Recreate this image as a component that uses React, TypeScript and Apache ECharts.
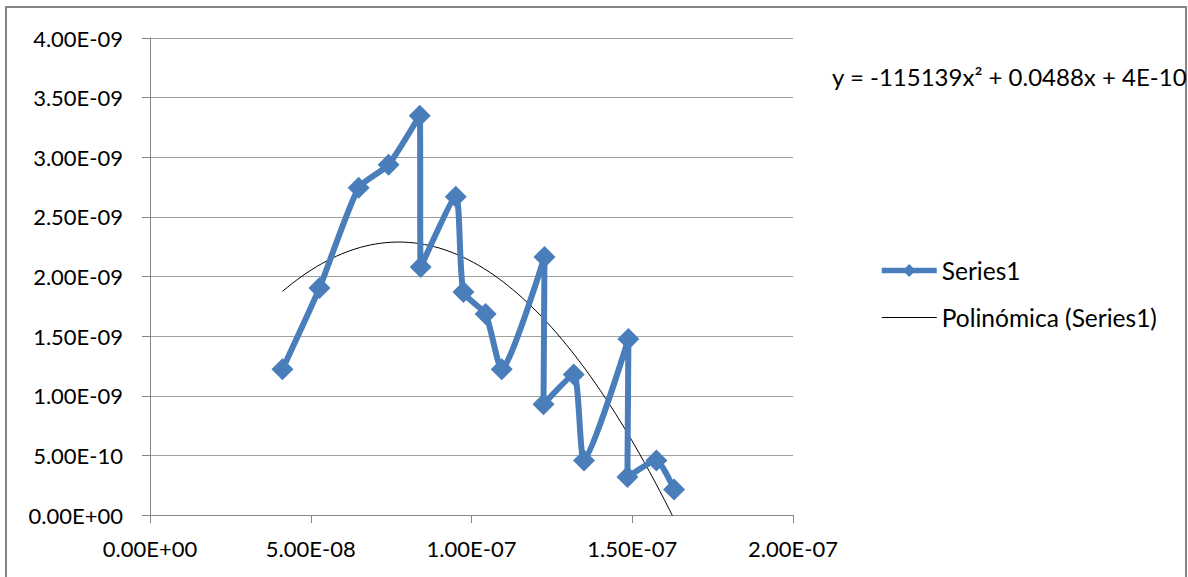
import React, { useEffect, useRef } from "react";
import * as echarts from "echarts";

const xValues = [
  4.12e-8, 5.27e-8, 6.49e-8, 7.42e-8, 8.39e-8, 8.42e-8, 9.51e-8, 9.75e-8, 1.044e-7,
  1.094e-7, 1.227e-7, 1.224e-7, 1.318e-7, 1.35e-7, 1.488e-7, 1.485e-7, 1.575e-7, 1.63e-7,
];
const yValues = [
  1.223e-9, 1.903e-9, 2.744e-9, 2.937e-9, 3.349e-9, 2.08e-9, 2.668e-9, 1.87e-9, 1.685e-9,
  1.223e-9, 2.164e-9, 0.929e-9, 1.178e-9, 0.458e-9, 1.475e-9, 0.318e-9, 0.458e-9, 0.214e-9,
];
const yTicks = { min: 0, max: 4e-9, interval: 5e-10 };
const xTicks = { min: 0, max: 2e-7, interval: 5e-8 };
const seriesName = "Series1";
const trendName = "Polinómica (Series1)";
const equationText = "y = -115139x² + 0.0488x + 4E-10";

// least-squares quadratic fit (the trendline), computed from the data
function fitQuadratic(xs: number[], ys: number[]) {
  const s = 1e7;
  const t = 1e9;
  const X = xs.map((v) => v * s);
  const Y = ys.map((v) => v * t);
  let S0 = 0, S1 = 0, S2 = 0, S3 = 0, S4 = 0, T0 = 0, T1 = 0, T2 = 0;
  for (let i = 0; i < X.length; i++) {
    const x = X[i], y = Y[i];
    S0 += 1; S1 += x; S2 += x * x; S3 += x * x * x; S4 += x * x * x * x;
    T0 += y; T1 += x * y; T2 += x * x * y;
  }
  const M = [
    [S4, S3, S2, T2],
    [S3, S2, S1, T1],
    [S2, S1, S0, T0],
  ];
  for (let i = 0; i < 3; i++) {
    for (let k = i + 1; k < 3; k++) {
      const f = M[k][i] / M[i][i];
      for (let j = i; j < 4; j++) M[k][j] -= f * M[i][j];
    }
  }
  const c = [0, 0, 0];
  for (let i = 2; i >= 0; i--) {
    let v = M[i][3];
    for (let j = i + 1; j < 3; j++) v -= M[i][j] * c[j];
    c[i] = v / M[i][i];
  }
  return (x: number) => {
    const u = x * s;
    return (c[0] * u * u + c[1] * u + c[2]) / t;
  };
}

function fmtExp(v: number) {
  const [m, e] = v.toExponential(2).split("e");
  const n = parseInt(e, 10);
  const sign = n < 0 ? "-" : "+";
  const abs = Math.abs(n);
  return m + "E" + sign + (abs < 10 ? "0" + abs : String(abs));
}

export default function App() {
  const ref = useRef<HTMLDivElement>(null);
  useEffect(() => {
    document.body.style.margin = "0";
    if (!ref.current) return;
    const chart = echarts.init(ref.current, null, { renderer: "svg" });
    const f = fitQuadratic(xValues, yValues);
    const xmin = Math.min(...xValues);
    const xmax = Math.max(...xValues);
    const trend: number[][] = [];
    const N = 80;
    for (let i = 0; i <= N; i++) {
      const x = xmin + ((xmax - xmin) * i) / N;
      trend.push([x, f(x)]);
    }
    const font = "Lato, 'Liberation Sans', sans-serif";
    chart.setOption({
      animation: false,
      backgroundColor: "#ffffff",
      grid: { left: 150, right: 395, top: 38, bottom: 62 },
      xAxis: {
        type: "value",
        min: xTicks.min,
        max: xTicks.max,
        interval: xTicks.interval,
        splitLine: { show: false },
        axisLine: { lineStyle: { color: "#868686", width: 1 } },
        axisTick: { show: true, length: 8, lineStyle: { color: "#868686" } },
        axisLabel: { formatter: fmtExp, fontSize: 22, fontFamily: font, color: "#000", margin: 22 },
      },
      yAxis: {
        type: "value",
        min: yTicks.min,
        max: yTicks.max,
        interval: yTicks.interval,
        splitLine: { show: true, lineStyle: { color: "#a0a0a0", width: 1 } },
        axisLine: { show: true, lineStyle: { color: "#868686", width: 1 } },
        axisTick: { show: true, length: 8, lineStyle: { color: "#868686" } },
        axisLabel: { formatter: fmtExp, fontSize: 22, fontFamily: font, color: "#000", margin: 27 },
      },
      legend: {
        orient: "vertical",
        left: 879,
        top: 258,
        padding: 0,
        itemWidth: 55,
        itemHeight: 16,
        itemGap: 22,
        textStyle: { fontSize: 24.5, fontFamily: font, color: "#000" },
        data: [
          { name: seriesName, lineStyle: { width: 5.5 } },
          { name: trendName, itemStyle: { opacity: 0 }, lineStyle: { width: 1.2, color: "#000" } },
        ],
      },
      graphic: [
        {
          type: "rect",
          shape: { x: 6, y: 7, width: 1180, height: 600 },
          style: { fill: "none", stroke: "#868686", lineWidth: 2 },
          silent: true,
        },
        {
          type: "text",
          left: 832,
          top: 64,
          style: { text: equationText, fontSize: 24, fontFamily: font, fill: "#000" },
        },
      ],
      series: [
        {
          name: trendName,
          type: "line",
          data: trend,
          showSymbol: false,
          symbol: "none",
          smooth: false,
          lineStyle: { color: "#000", width: 1 },
          itemStyle: { color: "#000" },
          z: 1,
        },
        {
          name: seriesName,
          type: "line",
          data: xValues.map((x, i) => [x, yValues[i]]),
          smooth: 0.2,
          symbol: "diamond",
          symbolSize: 22,
          lineStyle: { color: "#4a7ebb", width: 6 },
          itemStyle: { color: "#4a7ebb" },
          z: 2,
        },
      ],
    });
    return () => chart.dispose();
  }, []);
  return <div ref={ref} style={{ width: 1188, height: 577 }} />;
}
